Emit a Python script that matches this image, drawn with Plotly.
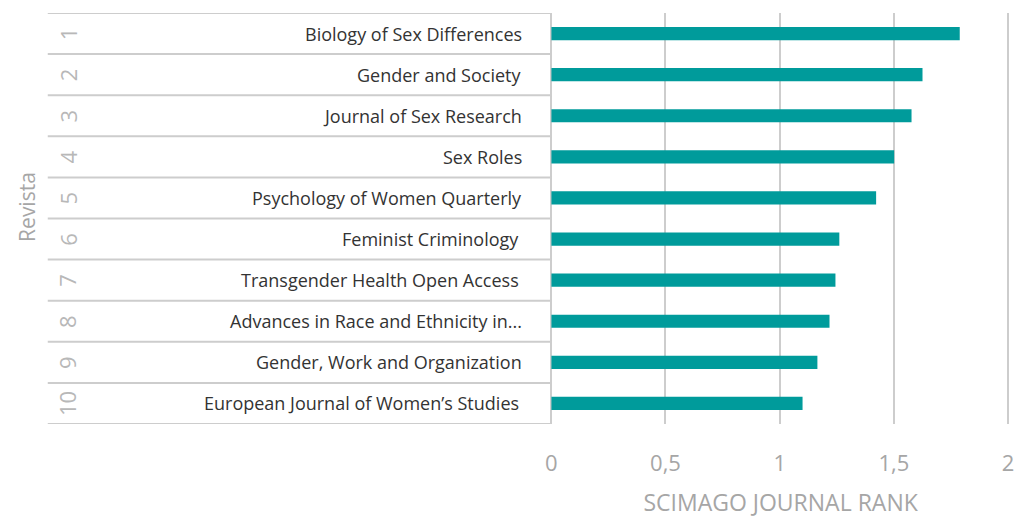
import plotly.graph_objects as go

ranks = ["1", "2", "3", "4", "5", "6", "7", "8", "9", "10"]
journals = [
    "Biology of Sex Differences",
    "Gender and Society",
    "Journal of Sex Research",
    "Sex Roles",
    "Psychology of Women Quarterly",
    "Feminist Criminology ",
    "Transgender Health Open Access ",
    "Advances in Race and Ethnicity in...",
    "Gender, Work and Organization",
    "European Journal of Women\u2019s Studies ",
]
sjr = [1.788, 1.625, 1.577, 1.501, 1.422, 1.261, 1.244, 1.218, 1.165, 1.100]
tick_vals = [0, 0.5, 1, 1.5, 2]
tick_text = ["0", "0,5", "1", "1,5", "2"]
x_title = "SCIMAGO JOURNAL RANK"
y_title = "Revista"

W, H = 1016, 518
ml, mr, mt, mb = 0, 6, 13, 94
plot_w = W - ml - mr
x0_px = 548.5
dom0 = x0_px / plot_w

FONT = "Open Sans, Segoe UI, sans-serif"
GRID = "#cdcdcd"
LABEL_GRAY = "#a6a6a6"
TEAL = "#009b9b"

fig = go.Figure()
fig.add_trace(go.Bar(
    x=sjr, y=journals, orientation="h",
    marker=dict(color=TEAL, line=dict(width=0)),
    width=0.32, hoverinfo="x+y",
))

shapes = []
n = len(journals)
for i in range(n + 1):
    shapes.append(dict(type="line", xref="paper", yref="y",
                       x0=42 / plot_w, x1=dom0, y0=i - 0.5, y1=i - 0.5,
                       line=dict(color=GRID, width=2)))
annotations = []
for i, (r, name) in enumerate(zip(ranks, journals)):
    pad_right = 521 if not name.endswith(" ") else 518
    annotations.append(dict(xref="paper", yref="y", x=pad_right / plot_w, y=name,
                            text=name.rstrip(), xanchor="right", yanchor="middle",
                            showarrow=False,
                            font=dict(family=FONT, size=18, color="#333333")))
    annotations.append(dict(xref="paper", yref="y", x=62 / plot_w, y=name,
                            text=r, textangle=-90, xanchor="center", yanchor="middle",
                            showarrow=False,
                            font=dict(family=FONT, size=22, color="#b8b8b8")))
annotations.append(dict(xref="paper", yref="paper", x=21 / plot_w,
                        y=1 - (207 - mt) / (H - mt - mb),
                        text=y_title, textangle=-90, xanchor="center", yanchor="middle",
                        showarrow=False,
                        font=dict(family=FONT, size=21, color=LABEL_GRAY)))

fig.update_layout(
    width=W, height=H,
    margin=dict(l=ml, r=mr, t=mt, b=mb),
    paper_bgcolor="white", plot_bgcolor="white",
    showlegend=False,
    shapes=shapes, annotations=annotations,
    xaxis=dict(
        domain=[dom0, 1], range=[0, 2.008], autorange=False,
        tickvals=tick_vals, ticktext=tick_text,
        showgrid=True, gridcolor=GRID, gridwidth=2,
        zeroline=True, zerolinecolor=GRID, zerolinewidth=2,
        showline=False, ticks="", ticklabelstandoff=24,
        tickfont=dict(family=FONT, size=22, color=LABEL_GRAY),
        title=dict(text=x_title, standoff=22,
                   font=dict(family=FONT, size=23, color=LABEL_GRAY)),
    ),
    yaxis=dict(
        categoryorder="array", categoryarray=journals,
        range=[n - 0.5, -0.5], autorange=False,
        showticklabels=False, showgrid=False, zeroline=False,
        showline=False, ticks="",
    ),
)

fig.write_html("out.html", config={"displayModeBar": False},
               post_script="document.body.style.margin='0';document.body.style.overflow='hidden';")
